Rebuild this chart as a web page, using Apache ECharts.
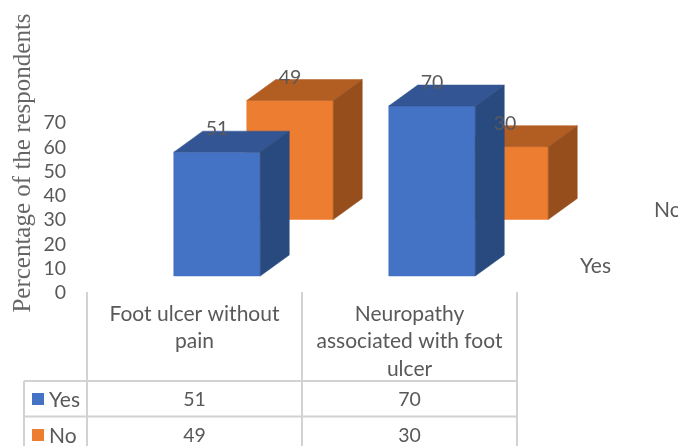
<!DOCTYPE html>
<html><head><meta charset="utf-8">
<style>html,body{margin:0;padding:0;background:#fff;overflow:hidden}#c{width:678px;height:446px}</style>
<script src="https://cdn.jsdelivr.net/npm/echarts@6/dist/echarts.min.js"></script>
</head><body><div id="c"></div>
<script>
const categories = ['Foot ulcer without\npain', 'Neuropathy\nassociated with foot\nulcer'];
const yesValues = [51, 70];
const noValues = [49, 30];
const seriesNames = ['Yes', 'No'];
const axisTitle = 'Percentage of the respondents';
const yTicks = {min: 0, max: 70, interval: 10};

const BLUE = {front: '#4472c4', top: '#335593', side: '#294a7f'};
const ORANGE = {front: '#ed7d31', top: '#b25d22', side: '#964f1c'};
const FONT = 'Lato';
const TEXT = '#595959';
const DEPTH_X = 29, DEPTH_Y = -21, BAR_W = 86.5;
const chart = echarts.init(document.getElementById('c'), null, {renderer: 'canvas'});

function box(color, offX, offY) {
  return function (params, api) {
    const top = api.coord([api.value(0), api.value(1)]);
    const base = api.coord([api.value(0), 0]);
    const l = top[0] + offX - BAR_W / 2, r = l + BAR_W;
    const t = top[1] + offY, b = base[1] + offY;
    const poly = (pts, fill) => ({type: 'polygon', shape: {points: pts}, style: {fill: fill, stroke: fill, lineWidth: 0.5}});
    return {type: 'group', children: [
      poly([[l, t], [r, t], [r, b], [l, b]], color.front),
      poly([[l, t], [l + DEPTH_X, t + DEPTH_Y], [r + DEPTH_X, t + DEPTH_Y], [r, t]], color.top),
      poly([[r, t], [r + DEPTH_X, t + DEPTH_Y], [r + DEPTH_X, b + DEPTH_Y], [r, b]], color.side)
    ]};
  };
}
function labeler(offX, offY) {
  return function (params, api) {
    const top = api.coord([api.value(0), api.value(1)]);
    return {type: 'text', style: {x: top[0] + offX, y: top[1] + offY, text: String(api.value(1)),
      fill: TEXT, font: '19.5px ' + FONT, align: 'center', verticalAlign: 'middle'}};
  };
}
const yesData = yesValues.map((v, i) => [i, v]);
const noData = noValues.map((v, i) => [i, v]);
const Y_YES = -17, Y_NO = -73.5, X_YES = 22.5, X_NO = 95.5;

chart.setOption({
  animation: false,
  backgroundColor: '#fff',
  grid: {left: 87, top: 123, width: 430, height: 170, containLabel: false},
  xAxis: {type: 'category', data: categories, axisLine: {show: false}, axisTick: {show: false},
    splitLine: {show: false},
    axisLabel: {color: TEXT, fontFamily: FONT, fontSize: 21, lineHeight: 27.5, margin: 7, interval: 0, align: 'center'}},
  yAxis: {type: 'value', min: yTicks.min, max: yTicks.max, interval: yTicks.interval,
    axisLine: {show: false}, axisTick: {show: false}, splitLine: {show: false},
    axisLabel: {color: TEXT, fontFamily: FONT, fontSize: 19.5, margin: 21}},
  series: [
    {type: 'custom', name: seriesNames[1], data: noData, z: 2, renderItem: box(ORANGE, X_NO, Y_NO), encode: {x: 0, y: 1}},
    {type: 'custom', name: seriesNames[0], data: yesData, z: 3, renderItem: box(BLUE, X_YES, Y_YES), encode: {x: 0, y: 1}},
    {type: 'custom', data: noData, z: 4, renderItem: labeler(X_NO, Y_NO - 23), encode: {x: 0, y: 1}},
    {type: 'custom', data: yesData, z: 4, renderItem: labeler(X_YES, Y_YES - 23), encode: {x: 0, y: 1}}
  ]
});

const LINE = {stroke: '#d2d2d2', lineWidth: 2};
const line = (x1, y1, x2, y2) => ({type: 'line', shape: {x1, y1, x2, y2}, style: LINE, silent: true});
const text = (x, y, s, align, size) => ({type: 'text', x, y, style: {text: s, fill: TEXT, font: (size || 19.5) + 'px ' + FONT, align: align || 'center', verticalAlign: 'middle'}});
const rows = [[400, yesValues, BLUE.front, seriesNames[0]], [436, noValues, ORANGE.front, seriesNames[1]]];
const els = [
  line(87, 292, 87, 446), line(302, 292, 302, 446), line(517, 292, 517, 446), line(24, 381, 24, 446),
  line(24, 381, 517, 381), line(24, 416.5, 517, 416.5),
  {type: 'text', x: 23, y: 163, rotation: Math.PI / 2, style: {text: axisTitle, fill: '#666', font: '25px "Liberation Serif"', align: 'center', verticalAlign: 'middle'}},
  text(580, 266, seriesNames[0], 'left', 21),
  text(654, 210, seriesNames[1], 'left', 21)
];
rows.forEach(([y, vals, color, name]) => {
  els.push({type: 'rect', shape: {x: 32, y: y - 7, width: 12, height: 12}, style: {fill: color}});
  els.push(text(49, y, name, 'left', 21));
  vals.forEach((v, i) => els.push(text(chart.convertToPixel({xAxisIndex: 0}, i), y, String(v))));
});
chart.setOption({graphic: els});
</script></body></html>
